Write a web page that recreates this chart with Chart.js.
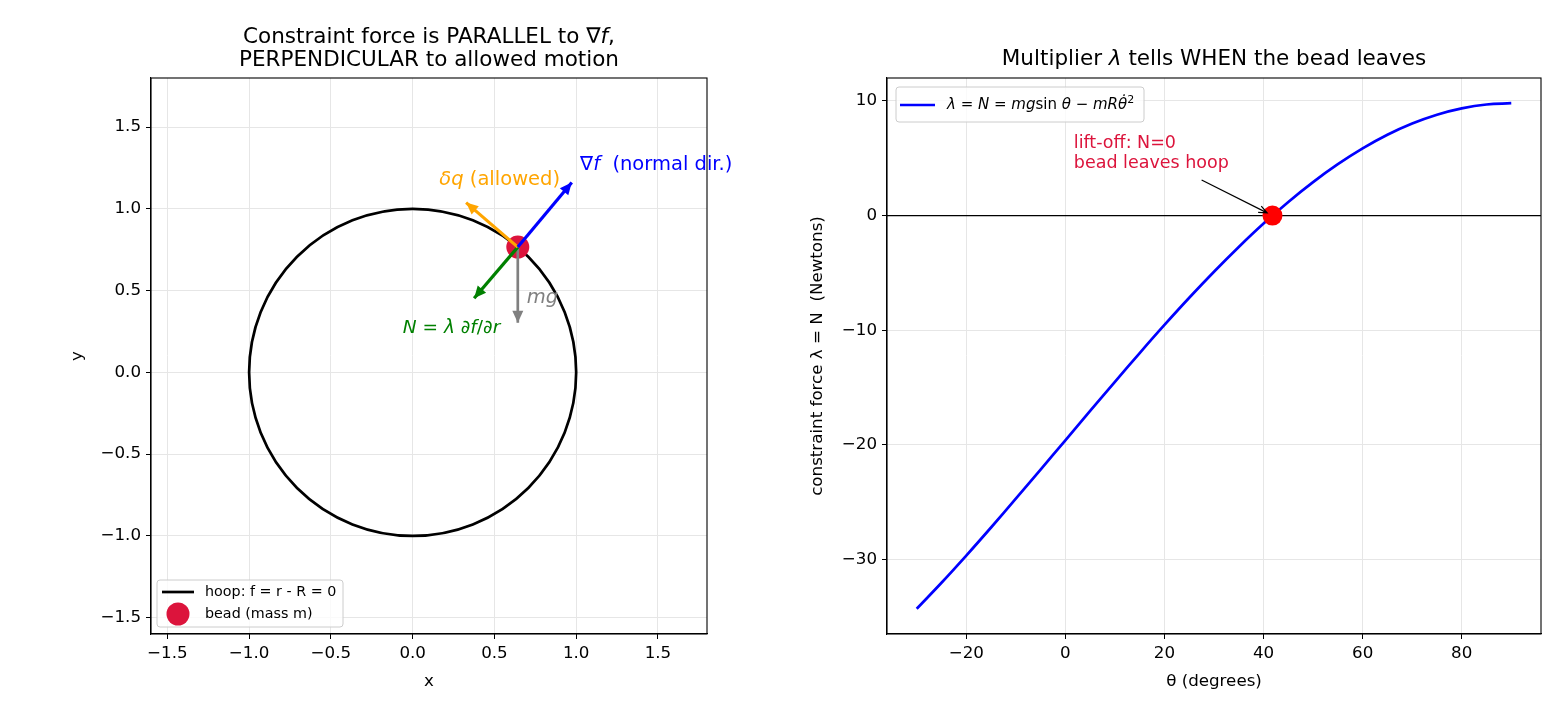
<!DOCTYPE html>
<html>
<head>
<meta charset="utf-8">
<script src="https://cdn.jsdelivr.net/npm/chart.js@4.4.1/dist/chart.umd.min.js"></script>
<style>
    body { margin: 0; background: #fff; width: 1560px; height: 715px; overflow: hidden; position: relative; }
    canvas { position: absolute; top: 0; }
    #hoopChart { left: 0; }
    #forceChart { left: 780px; }
</style>
</head>
<body>
<canvas id="hoopChart" width="780" height="715"></canvas>
<canvas id="forceChart" width="780" height="715"></canvas>
<script>
// left panel: hoop, bead and force directions
const hoopCenter = [0, 0];
const hoopRadius = 1;
const beadPos = [0.643, 0.766];
const gradTip = [0.973, 1.161];
const deltaQTip = [0.327, 1.038];
const normalTip = [0.376, 0.453];
const weightTip = [0.643, 0.304];
const hoopTicks = [-1.5, -1.0, -0.5, 0.0, 0.5, 1.0, 1.5];

// right panel: constraint force vs angle
const thetaDeg = [-30, -25, -20, -15, -10, -5, 0, 5, 10, 15, 20, 25, 30, 35, 40, 45, 50, 55, 60, 65, 70, 75, 80, 85, 90];
const lambdaN = [-34.30, -32.03, -29.66, -27.21, -24.70, -22.16, -19.60, -17.04, -14.50, -11.99, -9.54, -7.17, -4.90,
    -2.74, -0.70, 1.19, 2.92, 4.48, 5.86, 7.05, 8.03, 8.80, 9.35, 9.69, 9.80];
const liftOff = [41.8, 0];
const thetaTicks = [-20, 0, 20, 40, 60, 80];
const lambdaTicks = [-30, -20, -10, 0, 10];

const FONT = '"DejaVu Sans", sans-serif';
const GRID = '#e6e6e6';
const TICK_SIZE = 16.7;

function fmtDec(v) { return (v < 0 ? '\u2212' : '') + Math.abs(v).toFixed(1); }
function fmtInt(v) { return (v < 0 ? '\u2212' : '') + Math.abs(v); }

function axis(ticks, fmt, title, size, isY) {
    return {
        type: 'linear',
        afterBuildTicks: s => { s.ticks = ticks.map(v => ({ value: v })); },
        afterFit: s => { if (isY) s.width = size; else s.height = size; },
        grid: { color: GRID, lineWidth: 1, tickColor: '#000', tickLength: 5 },
        border: { color: '#000', width: 1.1 },
        ticks: { color: '#000', font: { family: FONT, size: TICK_SIZE }, padding: 5, maxRotation: 0, callback: fmt },
        title: { display: true, text: title, color: '#000', font: { family: FONT, size: TICK_SIZE }, padding: 4 }
    };
}

// draw a row of text pieces, some italic
function drawRuns(ctx, runs, x, y, size, color, align) {
    ctx.save();
    ctx.fillStyle = color;
    ctx.textBaseline = 'middle';
    ctx.textAlign = 'left';
    const fontFor = r => (r[1] === 'i' ? 'italic ' : '') + (r[1] === 's' ? Math.round(size * 0.7) : size) + 'px ' + FONT;
    let total = 0;
    runs.forEach(r => { ctx.font = fontFor(r); total += ctx.measureText(r[0]).width; });
    let cx = align === 'center' ? x - total / 2 : x;
    runs.forEach(r => {
        ctx.font = fontFor(r);
        ctx.fillText(r[0], cx, r[1] === 's' ? y - size * 0.35 : y);
        cx += ctx.measureText(r[0]).width;
    });
    ctx.restore();
}

function filledHead(ctx, x0, y0, x1, y1, color, len, half) {
    const a = Math.atan2(y1 - y0, x1 - x0);
    ctx.save();
    ctx.fillStyle = color;
    ctx.beginPath();
    ctx.moveTo(x1, y1);
    ctx.lineTo(x1 - len * Math.cos(a) + half * Math.sin(a), y1 - len * Math.sin(a) - half * Math.cos(a));
    ctx.lineTo(x1 - len * Math.cos(a) - half * Math.sin(a), y1 - len * Math.sin(a) + half * Math.cos(a));
    ctx.closePath();
    ctx.fill();
    ctx.restore();
}

function frame(chart) {
    const { ctx, chartArea: ca } = chart;
    ctx.save();
    ctx.strokeStyle = '#000';
    ctx.lineWidth = 1.1;
    ctx.strokeRect(ca.left, ca.top, ca.right - ca.left, ca.bottom - ca.top);
    ctx.restore();
}

function legendBox(ctx, x, y, w, h) {
    ctx.save();
    ctx.fillStyle = 'rgba(255,255,255,0.8)';
    ctx.strokeStyle = '#cccccc';
    ctx.lineWidth = 1;
    ctx.beginPath();
    ctx.roundRect(x, y, w, h, 3);
    ctx.fill();
    ctx.stroke();
    ctx.restore();
}

function arrowSet(tip, color, width) {
    return {
        data: [{ x: beadPos[0], y: beadPos[1] }, { x: tip[0], y: tip[1] }],
        showLine: true, borderColor: color, borderWidth: width, pointRadius: 0, arrow: true
    };
}

const hoopPlugin = {
    id: 'hoopPlugin',
    beforeDatasetsDraw(chart) {
        const { ctx, scales: { x, y } } = chart;
        const cx = x.getPixelForValue(hoopCenter[0]);
        const cy = y.getPixelForValue(hoopCenter[1]);
        const rx = x.getPixelForValue(hoopCenter[0] + hoopRadius) - cx;
        const ry = cy - y.getPixelForValue(hoopCenter[1] + hoopRadius);
        ctx.save();
        ctx.strokeStyle = '#000';
        ctx.lineWidth = 2.7;
        ctx.beginPath();
        ctx.ellipse(cx, cy, rx, ry, 0, 0, Math.PI * 2);
        ctx.stroke();
        ctx.restore();
    },
    afterDatasetsDraw(chart) {
        const { ctx, scales: { x, y } } = chart;
        chart.data.datasets.forEach((ds, i) => {
            if (!ds.arrow) return;
            const pts = chart.getDatasetMeta(i).data;
            filledHead(ctx, pts[0].x, pts[0].y, pts[1].x, pts[1].y, ds.borderColor, 12, 5.5);
        });
        const px = (d) => [x.getPixelForValue(d[0]), y.getPixelForValue(d[1])];
        let p = px([1.024, 1.268]);
        drawRuns(ctx, [['\u2207', 'n'], ['f', 'i'], ['  (normal dir.)', 'n']], p[0], p[1], 19.5, '#0000ff');
        p = px([0.163, 1.177]);
        drawRuns(ctx, [['\u03b4q', 'i'], [' (allowed)', 'n']], p[0], p[1], 19.5, '#ffa500');
        p = px([0.698, 0.453]);
        drawRuns(ctx, [['mg', 'i']], p[0], p[1], 19.5, '#808080');
        p = px([-0.06, 0.27]);
        drawRuns(ctx, [['N', 'i'], [' = ', 'n'], ['\u03bb', 'i'], [' \u2202', 'n'], ['f', 'i'], ['/\u2202', 'n'], ['r', 'i']], p[0], p[1], 18.5, '#008000');
    },
    afterDraw(chart) {
        const { ctx, chartArea: ca } = chart;
        frame(chart);
        const cx = (ca.left + ca.right) / 2;
        drawRuns(ctx, [['Constraint force is PARALLEL to \u2207', 'n'], ['f', 'i'], [',', 'n']], cx, 37, 21.5, '#000', 'center');
        drawRuns(ctx, [['PERPENDICULAR to allowed motion', 'n']], cx, 60, 21.5, '#000', 'center');
        // legend
        const lx = ca.left + 6, ly = ca.bottom - 54;
        legendBox(ctx, lx, ly, 186, 47);
        ctx.save();
        ctx.strokeStyle = '#000';
        ctx.lineWidth = 2.7;
        ctx.beginPath();
        ctx.moveTo(lx + 5, ly + 12);
        ctx.lineTo(lx + 37, ly + 12);
        ctx.stroke();
        ctx.fillStyle = '#dc143c';
        ctx.beginPath();
        ctx.arc(lx + 21, ly + 34, 11.5, 0, Math.PI * 2);
        ctx.fill();
        ctx.restore();
        drawRuns(ctx, [['hoop: f = r - R = 0', 'n']], lx + 48, ly + 12, 14.3, '#000');
        drawRuns(ctx, [['bead (mass m)', 'n']], lx + 48, ly + 34, 14.3, '#000');
    }
};

new Chart(document.getElementById('hoopChart'), {
    type: 'scatter',
    data: {
        datasets: [
            arrowSet(gradTip, '#0000ff', 3.2),
            arrowSet(deltaQTip, '#ffa500', 3.2),
            arrowSet(normalTip, '#008000', 3.2),
            arrowSet(weightTip, '#808080', 2.7),
            { data: [{ x: beadPos[0], y: beadPos[1] }], pointRadius: 11.5, backgroundColor: '#dc143c', borderWidth: 0 }
        ]
    },
    options: {
        responsive: false,
        animation: false,
        layout: { padding: { left: 64, right: 73, top: 78, bottom: 19 } },
        plugins: { legend: { display: false }, tooltip: { enabled: false } },
        scales: {
            x: Object.assign(axis(hoopTicks, fmtDec, 'x', 62, false), { min: -1.6, max: 1.8 }),
            y: Object.assign(axis(hoopTicks, fmtDec, 'y', 87, true), { min: -1.6, max: 1.8 })
        }
    },
    plugins: [hoopPlugin]
});

const forcePlugin = {
    id: 'forcePlugin',
    beforeDatasetsDraw(chart) {
        const { ctx, chartArea: ca, scales: { y } } = chart;
        const py = y.getPixelForValue(0);
        ctx.save();
        ctx.strokeStyle = '#000';
        ctx.lineWidth = 1.2;
        ctx.beginPath();
        ctx.moveTo(ca.left, py);
        ctx.lineTo(ca.right, py);
        ctx.stroke();
        ctx.restore();
    },
    afterDatasetsDraw(chart) {
        const { ctx, scales: { x, y } } = chart;
        const tx = x.getPixelForValue(1.7), ty = y.getPixelForValue(6.3);
        drawRuns(ctx, [['lift-off: N=0', 'n']], tx, ty, 17.5, '#dc143c');
        drawRuns(ctx, [['bead leaves hoop', 'n']], tx, ty + 20, 17.5, '#dc143c');
        // annotation arrow
        const x0 = x.getPixelForValue(27.5), y0 = y.getPixelForValue(3.1);
        let x1 = x.getPixelForValue(liftOff[0]), y1 = y.getPixelForValue(liftOff[1]);
        const a = Math.atan2(y1 - y0, x1 - x0);
        x1 -= 6 * Math.cos(a); y1 -= 6 * Math.sin(a);
        ctx.save();
        ctx.strokeStyle = '#000';
        ctx.lineWidth = 1.2;
        ctx.beginPath();
        ctx.moveTo(x0, y0);
        ctx.lineTo(x1, y1);
        ctx.moveTo(x1 - 9 * Math.cos(a - 0.4), y1 - 9 * Math.sin(a - 0.4));
        ctx.lineTo(x1, y1);
        ctx.lineTo(x1 - 9 * Math.cos(a + 0.4), y1 - 9 * Math.sin(a + 0.4));
        ctx.stroke();
        ctx.restore();
    },
    afterDraw(chart) {
        const { ctx, chartArea: ca } = chart;
        frame(chart);
        drawRuns(ctx, [['Multiplier ', 'n'], ['\u03bb', 'i'], [' tells WHEN the bead leaves', 'n']], (ca.left + ca.right) / 2, 59, 21.5, '#000', 'center');
        const lx = ca.left + 9, ly = ca.top + 9;
        legendBox(ctx, lx, ly, 248, 35);
        ctx.save();
        ctx.strokeStyle = '#0000ff';
        ctx.lineWidth = 2.7;
        ctx.beginPath();
        ctx.moveTo(lx + 4, ly + 18);
        ctx.lineTo(lx + 39, ly + 18);
        ctx.stroke();
        ctx.restore();
        drawRuns(ctx, [['\u03bb', 'i'], [' = ', 'n'], ['N', 'i'], [' = ', 'n'], ['mg', 'i'], ['sin ', 'n'], ['\u03b8', 'i'], [' \u2212 ', 'n'], ['mR\u03b8\u0307', 'i'], ['2', 's']], lx + 51, ly + 18, 15, '#000');
    }
};

new Chart(document.getElementById('forceChart'), {
    type: 'scatter',
    data: {
        datasets: [
            { data: [{ x: liftOff[0], y: liftOff[1] }], pointRadius: 10, backgroundColor: '#ff0000', borderWidth: 0 },
            {
                data: thetaDeg.map((t, i) => ({ x: t, y: lambdaN[i] })),
                showLine: true, borderColor: '#0000ff', borderWidth: 2.7, pointRadius: 0,
                tension: 0.4
            }
        ]
    },
    options: {
        responsive: false,
        animation: false,
        layout: { padding: { left: 24, right: 19, top: 78, bottom: 19 } },
        plugins: { legend: { display: false }, tooltip: { enabled: false } },
        scales: {
            x: Object.assign(axis(thetaTicks, fmtInt, '\u03b8 (degrees)', 62, false), { min: -36, max: 96 }),
            y: Object.assign(axis(lambdaTicks, fmtInt, 'constraint force \u03bb = N  (Newtons)', 83, true), { min: -36.5, max: 12.0 })
        }
    },
    plugins: [forcePlugin]
});
</script>
</body>
</html>
